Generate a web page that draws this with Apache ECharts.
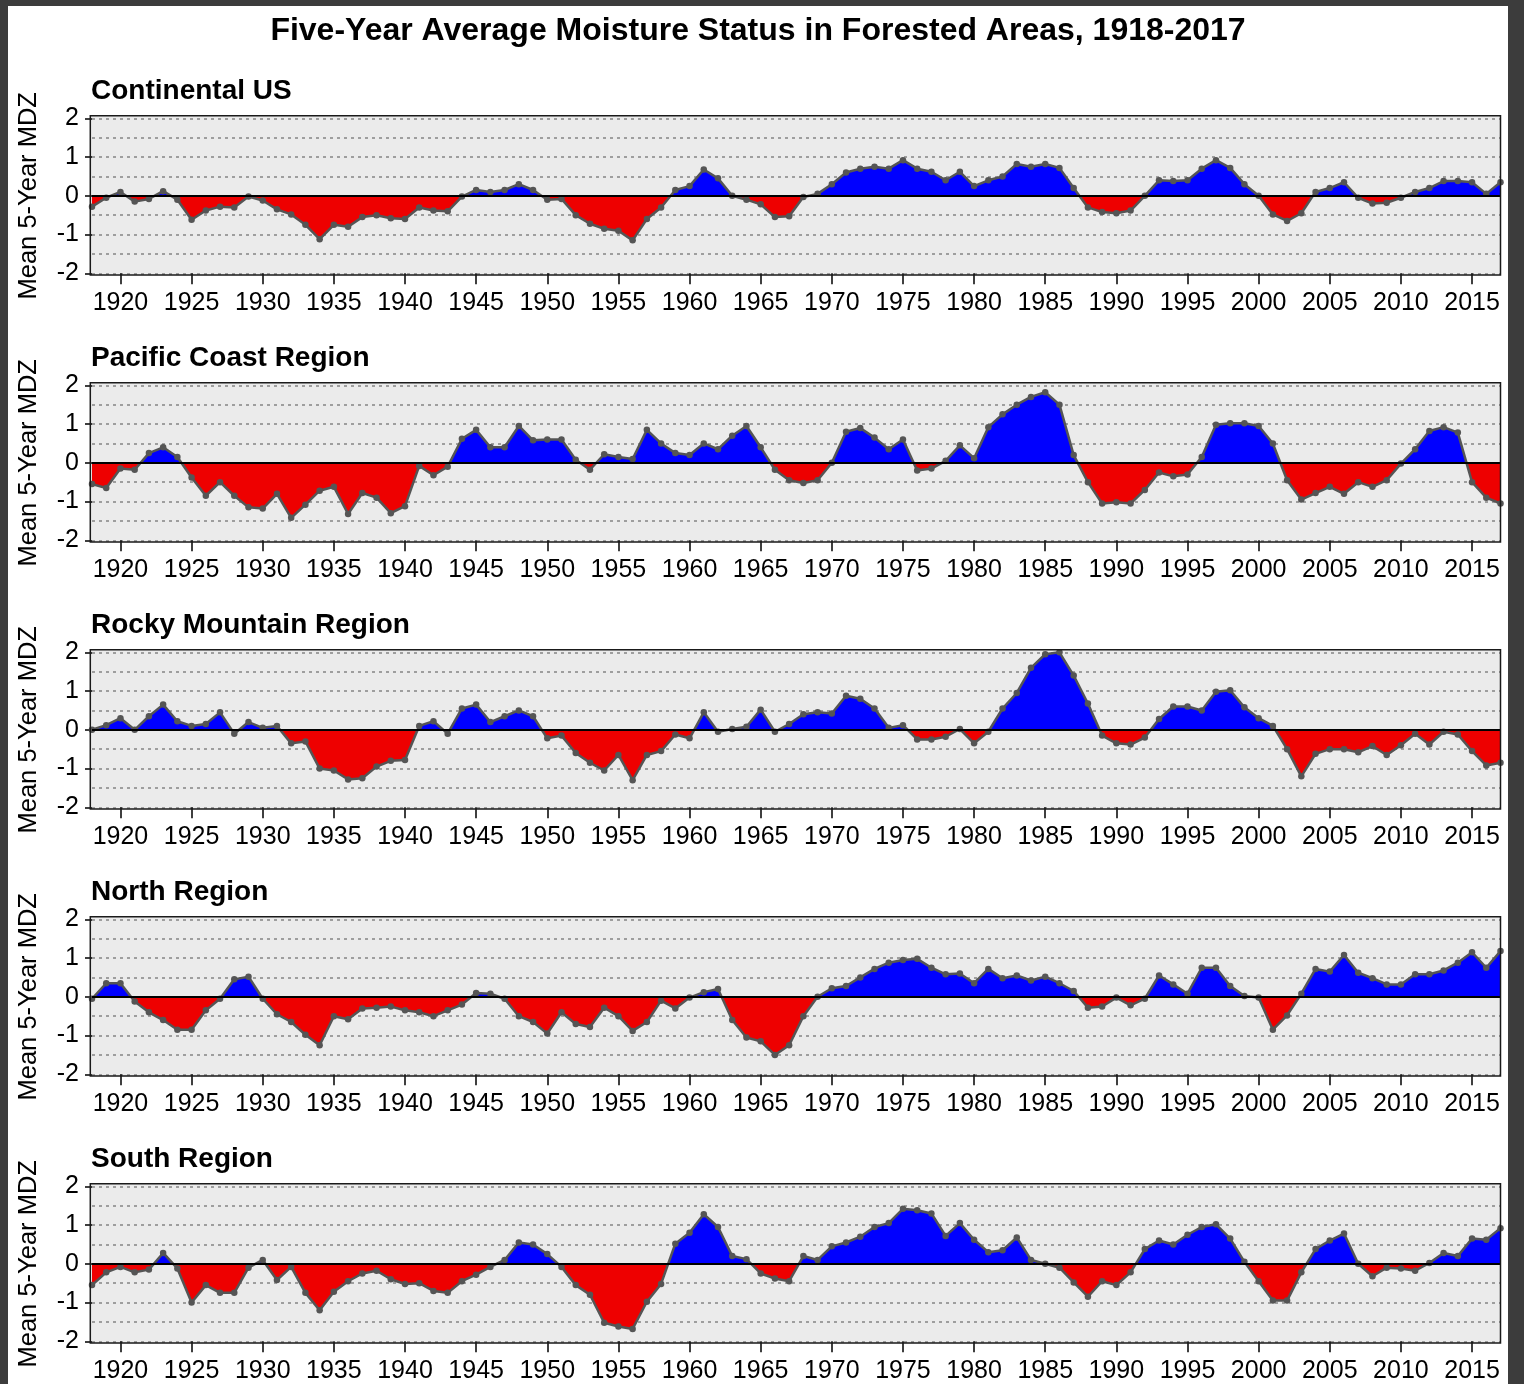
<!DOCTYPE html>
<html>
<head>
<meta charset="utf-8">
<title>Five-Year Average Moisture Status in Forested Areas, 1918-2017</title>
<script src="https://cdn.jsdelivr.net/npm/echarts@6.0.0/dist/echarts.min.js"></script>
<style>
    html, body { margin: 0; padding: 0; background: #3c3c3c; }
    #chart { position: absolute; left: 8px; top: 6px; width: 1500px; height: 1378px; background: #fff; }
</style>
</head>
<body>
<div id="chart"></div>
<script>
// years 1918..2017 (x categories)
var years = [];
for (var y = 1918; y <= 2017; y++) years.push(String(y));

var mainTitle = 'Five-Year Average Moisture Status in Forested Areas, 1918-2017';
var panelTitles = ['Continental US', 'Pacific Coast Region', 'Rocky Mountain Region', 'North Region', 'South Region'];
var yTickLabels = ['-2', '-1', '0', '1', '2'];

// mean 5-year MDZ, 1918..2017
var continentalUS = [
    -0.28, -0.05, 0.1, -0.15, -0.08, 0.12, -0.1, -0.62, -0.38, -0.28,
    -0.3, -0.02, -0.12, -0.35, -0.48, -0.75, -1.12, -0.75, -0.8, -0.55,
    -0.5, -0.58, -0.6, -0.3, -0.38, -0.4, -0.02, 0.15, 0.1, 0.15,
    0.3, 0.15, -0.1, -0.08, -0.5, -0.72, -0.85, -0.9, -1.15, -0.6,
    -0.3, 0.15, 0.25, 0.68, 0.45, 0.0, -0.1, -0.22, -0.55, -0.53,
    -0.03, 0.05, 0.3, 0.6, 0.7, 0.75, 0.7, 0.92, 0.7, 0.62,
    0.4, 0.62, 0.25, 0.4, 0.5, 0.82, 0.75, 0.82, 0.72, 0.2,
    -0.3, -0.42, -0.45, -0.38, 0.0, 0.4, 0.38, 0.4, 0.7, 0.92,
    0.72, 0.3, 0.0, -0.48, -0.65, -0.45, 0.1, 0.2, 0.35, -0.05,
    -0.2, -0.18, -0.05, 0.1, 0.2, 0.38, 0.38, 0.35, 0.05, 0.35
];
var pacificCoast = [
    -0.55, -0.65, -0.15, -0.18, 0.25, 0.4, 0.15, -0.38, -0.85, -0.5,
    -0.85, -1.15, -1.18, -0.8, -1.42, -1.08, -0.72, -0.62, -1.32, -0.78,
    -0.9, -1.3, -1.12, -0.08, -0.32, -0.1, 0.62, 0.85, 0.4, 0.4,
    0.95, 0.58, 0.6, 0.6, 0.08, -0.18, 0.22, 0.15, 0.1, 0.85,
    0.5, 0.25, 0.2, 0.5, 0.35, 0.7, 0.95, 0.4, -0.18, -0.45,
    -0.52, -0.45, 0.0, 0.8, 0.9, 0.65, 0.35, 0.6, -0.2, -0.15,
    0.05, 0.45, 0.12, 0.92, 1.25, 1.5, 1.7, 1.82, 1.5, 0.2,
    -0.5, -1.05, -1.02, -1.05, -0.7, -0.25, -0.35, -0.3, 0.15, 0.98,
    1.02, 1.02, 0.95, 0.5, -0.45, -0.95, -0.78, -0.62, -0.8, -0.5,
    -0.62, -0.45, -0.02, 0.35, 0.82, 0.92, 0.78, -0.5, -0.9, -1.05
];
var rockyMountain = [
    0.0, 0.12, 0.3, 0.0, 0.35, 0.65, 0.22, 0.1, 0.15, 0.45,
    -0.1, 0.2, 0.05, 0.1, -0.35, -0.3, -1.0, -1.05, -1.28, -1.25,
    -0.95, -0.8, -0.78, 0.1, 0.22, -0.1, 0.55, 0.65, 0.2, 0.35,
    0.5, 0.35, -0.22, -0.15, -0.6, -0.85, -1.05, -0.65, -1.3, -0.65,
    -0.55, -0.12, -0.22, 0.45, -0.05, 0.02, 0.08, 0.52, -0.05, 0.15,
    0.4, 0.45, 0.42, 0.88, 0.8, 0.55, 0.05, 0.12, -0.25, -0.25,
    -0.18, 0.02, -0.35, -0.05, 0.55, 0.95, 1.6, 1.95, 2.0, 1.4,
    0.68, -0.15, -0.35, -0.38, -0.2, 0.28, 0.6, 0.6, 0.5, 0.98,
    1.02, 0.58, 0.3, 0.1, -0.5, -1.2, -0.62, -0.5, -0.5, -0.58,
    -0.42, -0.65, -0.4, -0.1, -0.38, -0.05, -0.12, -0.55, -0.92, -0.85
];
var northRegion = [
    -0.05, 0.35, 0.35, -0.12, -0.4, -0.6, -0.85, -0.85, -0.35, -0.05,
    0.45, 0.52, -0.05, -0.45, -0.65, -0.98, -1.25, -0.5, -0.58, -0.3,
    -0.28, -0.25, -0.35, -0.4, -0.5, -0.35, -0.2, 0.1, 0.08, -0.05,
    -0.5, -0.65, -0.95, -0.4, -0.7, -0.78, -0.28, -0.5, -0.88, -0.65,
    -0.1, -0.3, -0.02, 0.12, 0.2, -0.6, -1.05, -1.15, -1.5, -1.25,
    -0.5, 0.0, 0.22, 0.28, 0.5, 0.72, 0.88, 0.95, 0.98, 0.75,
    0.58, 0.6, 0.35, 0.72, 0.48, 0.55, 0.42, 0.52, 0.35, 0.15,
    -0.28, -0.25, -0.02, -0.22, -0.05, 0.55, 0.32, 0.08, 0.75, 0.75,
    0.28, 0.02, -0.02, -0.85, -0.48, 0.08, 0.72, 0.65, 1.08, 0.62,
    0.48, 0.32, 0.32, 0.58, 0.58, 0.68, 0.88, 1.15, 0.75, 1.18
];
var southRegion = [
    -0.55, -0.22, -0.08, -0.22, -0.15, 0.28, -0.12, -1.0, -0.55, -0.75,
    -0.75, -0.1, 0.1, -0.42, -0.08, -0.75, -1.2, -0.72, -0.45, -0.25,
    -0.18, -0.4, -0.52, -0.5, -0.7, -0.75, -0.45, -0.28, -0.08, 0.1,
    0.55, 0.5, 0.25, -0.08, -0.55, -0.8, -1.52, -1.62, -1.68, -0.98,
    -0.52, 0.52, 0.8, 1.28, 0.95, 0.2, 0.12, -0.25, -0.38, -0.45,
    0.2, 0.1, 0.45, 0.55, 0.7, 0.95, 1.05, 1.42, 1.38, 1.3,
    0.72, 1.05, 0.62, 0.3, 0.35, 0.68, 0.1, 0.0, -0.1, -0.48,
    -0.85, -0.45, -0.55, -0.22, 0.38, 0.6, 0.5, 0.75, 0.95, 1.02,
    0.65, 0.05, -0.45, -0.95, -0.95, -0.22, 0.38, 0.6, 0.78, 0.0,
    -0.32, -0.1, -0.12, -0.18, 0.02, 0.28, 0.2, 0.65, 0.62, 0.92
];

var panelData = [continentalUS, pacificCoast, rockyMountain, northRegion, southRegion];

var wetColor = '#0000ff', dryColor = '#ee0000';
var font = 'Liberation Sans, Arial, sans-serif';
var plotLeft = 82.3, plotWidth = 1410.2;
var plotTop = 112.3, plotHeight = 155, panelStep = 267;

function everyFifth(index, value) {
    return Number(value) % 5 === 0;
}

var grids = [], xAxes = [], yAxes = [], series = [], titles = [], frames = [];

titles.push({
    text: mainTitle,
    left: 'center',
    top: 9,
    padding: 0,
    textStyle: { fontSize: 32, fontWeight: 'bold', color: '#000', fontFamily: font }
});

for (var i = 0; i < 5; i++) {
    var panelTop = plotTop + panelStep * i;

    titles.push({
        text: panelTitles[i],
        left: 83,
        top: panelTop - 41.5,
        padding: 0,
        textStyle: { fontSize: 28, fontWeight: 'bold', color: '#000', fontFamily: font }
    });

    // panel background + frame
    frames.push({
        type: 'rect', z: -10, silent: true,
        shape: { x: plotLeft, y: panelTop - 2.6, width: plotWidth, height: plotHeight + 4.3 },
        style: { fill: '#ebebeb' }
    });
    frames.push({
        type: 'rect', z: 100, silent: true,
        shape: { x: plotLeft, y: panelTop - 2.6, width: plotWidth, height: plotHeight + 4.3 },
        style: { fill: 'none', stroke: '#1a1a1a', lineWidth: 1.5 }
    });

    grids.push({ left: plotLeft, width: plotWidth, top: panelTop, height: plotHeight });

    xAxes.push({
        gridIndex: i,
        type: 'category',
        data: years,
        boundaryGap: false,
        axisLine: { show: false, onZero: false },
        axisTick: { show: true, length: 11, interval: everyFifth, lineStyle: { color: '#000', width: 1.5 } },
        axisLabel: { interval: everyFifth, margin: 17, fontSize: 25, color: '#000', fontFamily: font },
        splitLine: { show: false }
    });

    yAxes.push({
        gridIndex: i,
        type: 'value',
        min: -2,
        max: 2,
        interval: 1,
        name: 'Mean 5-Year MDZ',
        nameLocation: 'middle',
        nameGap: 50,
        nameTextStyle: { fontSize: 25.5, color: '#000', fontFamily: font },
        axisLine: { show: false },
        axisTick: { show: true, length: 7, lineStyle: { color: '#000', width: 1.5 } },
        axisLabel: {
            margin: 13, fontSize: 25, color: '#000', fontFamily: font,
            formatter: function (v) { return yTickLabels[v + 2]; }
        },
        splitLine: { show: true, lineStyle: { color: '#858585', type: [3, 4], width: 1.5 } },
        minorTick: { show: false, splitNumber: 2 },
        minorSplitLine: { show: true, lineStyle: { color: '#858585', type: [3, 4], width: 1.5 } }
    });

    // filled area between the curve and zero (colour set once the axes exist)
    series.push({
        type: 'line',
        xAxisIndex: i,
        yAxisIndex: i,
        data: panelData[i],
        symbol: 'none',
        silent: true,
        z: 1,
        lineStyle: { width: 0 },
        areaStyle: { opacity: 1, color: wetColor },
        markLine: {
            silent: true,
            symbol: 'none',
            label: { show: false },
            lineStyle: { color: '#000', type: 'solid', width: 2 },
            data: [{ yAxis: 0 }]
        }
    });
    // grey line with points
    series.push({
        type: 'line',
        xAxisIndex: i,
        yAxisIndex: i,
        data: panelData[i],
        symbol: 'circle',
        symbolSize: 6.5,
        showAllSymbol: true,
        z: 3,
        itemStyle: { color: '#555555' },
        lineStyle: { color: '#555555', width: 2.5 }
    });
}

var option = {
    animation: false,
    backgroundColor: '#ffffff',
    title: titles,
    grid: grids,
    xAxis: xAxes,
    yAxis: yAxes,
    graphic: { elements: frames },
    series: series
};

var chart = echarts.init(document.getElementById('chart'));
chart.setOption(option);

// blue above zero, red below: a hard-stop gradient pinned at the pixel row of y = 0
var areaUpdates = [];
for (var j = 0; j < 5; j++) {
    var zeroY = chart.convertToPixel({ gridIndex: j }, [0, 0])[1];
    areaUpdates[2 * j] = {
        areaStyle: {
            opacity: 1,
            color: {
                type: 'linear', global: true,
                x: 0, y: zeroY - 1, x2: 0, y2: zeroY + 1,
                colorStops: [
                    { offset: 0, color: wetColor },
                    { offset: 0.5, color: wetColor },
                    { offset: 0.5, color: dryColor },
                    { offset: 1, color: dryColor }
                ]
            }
        }
    };
    areaUpdates[2 * j + 1] = {};
}
chart.setOption({ series: areaUpdates });
</script>
</body>
</html>
